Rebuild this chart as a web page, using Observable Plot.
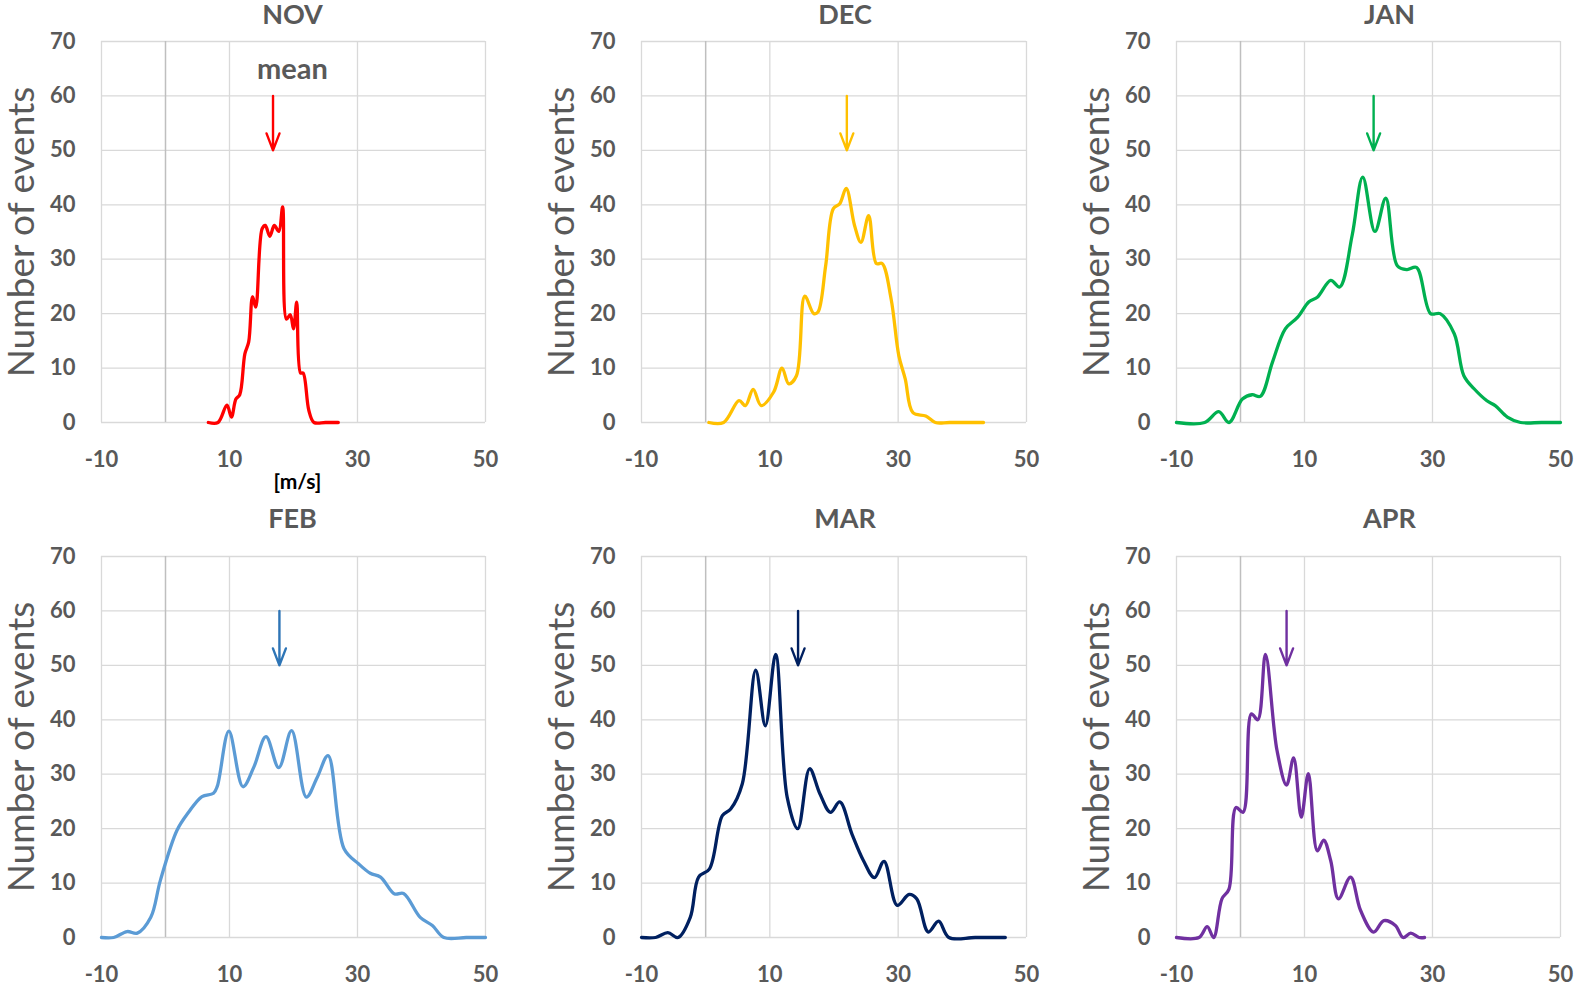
<!DOCTYPE html>
<html><head><meta charset="utf-8">
<script src="https://cdn.jsdelivr.net/npm/d3@7"></script>
<script src="https://cdn.jsdelivr.net/npm/@observablehq/plot@0.6"></script>
<style>
html,body{margin:0;padding:0;background:#fff;overflow:hidden;}
#chart{position:relative;width:1574px;height:985px;}
#chart svg{position:absolute;overflow:visible;}
</style></head><body><div id="chart"></div>
<script>
const months = ["NOV","DEC","JAN","FEB","MAR","APR"];
const lineColors = ["#FF0000","#FFC000","#00B050","#5B9BD5","#002060","#7030A0"];
const arrowColors = ["#FF0000","#FFC000","#00B050","#2E75B6","#002060","#7030A0"];
const meanSpeed = [16.8, 22.0, 20.8, 17.8, 14.4, 7.2];
const arrowFrom = 60, arrowTo = 50;
const yTicks = [0,10,20,30,40,50,60,70];
const xTicks = [-10,10,30,50];
const yLabel = "Number of events";
const unitLabel = "[m/s]";
const meanLabel = "mean";

const novSpeed = [6.7, 8.2, 9.6, 10.3, 11.0, 11.6, 12.4, 13.0, 13.6, 14.1, 15.1, 15.6, 16.3, 17.0, 17.7, 18.3, 18.9, 19.5, 20.0, 20.5, 21.1, 21.5, 22.4, 23.2, 25.0, 27.0];
const novCount = [0, 0, 3.2, 1.0, 4.3, 5.1, 12.6, 14.8, 23.1, 21.2, 35.6, 36.2, 34.2, 36.2, 35.1, 39.6, 19.0, 19.8, 17.2, 22.1, 9.1, 9.1, 2.2, 0, 0, 0];

const decSpeed = [0.5, 2.8, 5.2, 6.2, 7.4, 8.65, 10.6, 11.9, 12.95, 14.15, 15.45, 16.85, 17.5, 18.7, 19.9, 20.9, 21.9, 23.2, 24.2, 25.4, 26.6, 27.5, 28.9, 30.1, 31.1, 32.3, 34.3, 35.8, 38.0, 43.3];
const decCount = [0, 0, 4.0, 3.1, 6.1, 3.1, 5.6, 10.0, 7.1, 8.6, 23.2, 20.0, 20.3, 28.8, 39.3, 40.2, 43.0, 36.2, 33.1, 38.0, 29.2, 29.2, 22.7, 12.3, 8.0, 1.8, 1.2, 0, 0, 0];

const janSpeed = [-10, -5.6, -3.4, -1.8, 0.3, 1.8, 3.1, 5.0, 7.0, 8.9, 10.7, 12.0, 14.1, 15.5, 17.45, 19.1, 21.0, 22.7, 24.5, 26.0, 27.5, 29.7, 31.2, 33.4, 34.9, 36.5, 38.5, 39.8, 41.7, 43.75, 47, 50];
const janCount = [0, 0, 2.0, 0, 4.3, 5.1, 4.8, 11.1, 17.2, 19.3, 22.2, 23.0, 26.1, 24.9, 34.4, 45.1, 35.1, 41.2, 28.8, 28.1, 28.5, 20.0, 20.0, 16.3, 8.6, 6.2, 4.0, 3.1, 1.0, 0, 0, 0];

const febSpeed = [-10, -8.1, -6.0, -4.4, -2.3, -0.8, 1.8, 3.6, 5.7, 7.5, 8.1, 9.9, 12.1, 13.8, 15.7, 17.7, 19.7, 22.0, 23.7, 25.4, 27.9, 30.2, 32.0, 33.6, 35.8, 37.2, 39.8, 41.7, 43.5, 47, 50];
const febCount = [0, 0, 1.1, 0.8, 3.7, 10.5, 19.7, 23.0, 25.9, 26.5, 27.8, 37.9, 27.7, 31.3, 36.9, 31.2, 38.0, 25.8, 29.4, 33.4, 16.3, 13.5, 11.8, 11.1, 8.0, 8.1, 3.7, 2.2, 0, 0, 0];

const marSpeed = [-10, -7.8, -5.9, -4.3, -2.4, -1.1, 0.6, 2.6, 3.9, 5.7, 7.8, 9.3, 10.9, 12.7, 14.35, 16.2, 17.8, 19.45, 20.9, 22.8, 24.6, 26.3, 27.8, 29.85, 31.7, 32.9, 34.7, 36.3, 37.9, 42, 46.7];
const marCount = [0, 0, 0.9, 0, 3.7, 11.1, 12.6, 22.4, 23.6, 28.2, 49.1, 38.9, 52.0, 25.8, 20.0, 31.0, 26.4, 23.0, 24.9, 19.0, 14.1, 11.0, 14.0, 5.9, 7.9, 7.1, 1.0, 3.0, 0, 0, 0];

const aprSpeed = [-10, -6.5, -5.2, -4.2, -2.9, -1.8, -0.7, 0.4, 1.7, 2.7, 3.9, 5.7, 7.2, 8.3, 9.5, 10.6, 12.0, 13.0, 14.1, 15.3, 17.2, 18.75, 20.8, 22.4, 24.2, 25.4, 26.6, 27.9, 28.75];
const aprCount = [0, 0, 2.0, 0, 7.1, 8.9, 23.9, 23.0, 41.1, 40.0, 52.0, 34.4, 28.0, 33.0, 22.1, 30.1, 15.9, 17.9, 14.1, 7.1, 11.1, 5.0, 1.0, 3.1, 2.2, 0, 0.8, 0, 0];

const speeds = [novSpeed, decSpeed, janSpeed, febSpeed, marSpeed, aprSpeed];
const counts = [novCount, decCount, janCount, febCount, marCount, aprCount];

// layout (pixels)
const colLeft = [101, 641, 1176];
const colWidth = [384, 385, 384];
const titleShift = [-1, 11, 21];
const rowTop = [41, 556];
const rowSvgTop = [0, 496];
const rowTitleDy = [-26, -37];
const plotH = 381;
const font = "Lato, 'Open Sans', sans-serif";

const chart = document.getElementById("chart");
months.forEach((m, i) => {
  const col = i % 3, row = Math.floor(i / 3);
  const mt = rowTop[row] - rowSvgTop[row];
  const mb = row === 0 ? 70 : 48;
  const data = speeds[i].map((s, j) => ({speed: s, count: counts[i][j]}));
  const marks = [
    Plot.ruleY(yTicks, {y: d => d, stroke: "#D9D9D9", strokeWidth: 1.3}),
    Plot.ruleX(xTicks, {x: d => d, stroke: "#D9D9D9", strokeWidth: 1.3}),
    Plot.ruleX([0], {x: d => d, stroke: "#BFBFBF", strokeWidth: 1.5}),
    Plot.axisY({ticks: yTicks, tickSize: 0, tickPadding: 26, fontSize: 22, fontWeight: 700, label: null, tickFormat: d => String(d)}),
    Plot.axisX({ticks: xTicks, tickSize: 0, tickPadding: 29, fontSize: 22, fontWeight: 700, label: null, tickFormat: d => String(d)}),
    Plot.line(data, {x: "speed", y: "count", stroke: lineColors[i], strokeWidth: 3.3, curve: "catmull-rom"}),
    Plot.arrow([meanSpeed[i]], {x1: d => d, x2: d => d, y1: () => arrowFrom, y2: () => arrowTo, stroke: arrowColors[i], strokeWidth: 2.4, headLength: 12, headAngle: 42}),
    Plot.text([m], {text: d => d, frameAnchor: "top", lineAnchor: "middle", dx: titleShift[col], dy: rowTitleDy[row], fontSize: 27, fontWeight: 700, fill: "#595959"}),
    Plot.text([yLabel], {text: d => d, frameAnchor: "left", textAnchor: "middle", lineAnchor: "middle", dx: -79, rotate: -90, fontSize: 37, fill: "#595959"})
  ];
  if (i === 0) {
    marks.push(Plot.text([meanLabel], {text: d => d, frameAnchor: "top", lineAnchor: "middle", dx: -1, dy: 28, fontSize: 29, fontWeight: 700, fill: "#595959"}));
    marks.push(Plot.text([unitLabel], {text: d => d, frameAnchor: "bottom", lineAnchor: "middle", dx: 4, dy: 60, fontSize: 21, fontWeight: 700, fill: "#000000"}));
  }
  const svg = Plot.plot({
    width: 101 + colWidth[col] + 14,
    height: mt + plotH + mb,
    marginLeft: 101, marginRight: 14, marginTop: mt, marginBottom: mb,
    x: {domain: [-10, 50]},
    y: {domain: [0, 70]},
    style: {fontFamily: font, color: "#595959", background: "transparent", overflow: "visible"},
    marks
  });
  svg.style.left = (colLeft[col] - 101) + "px";
  svg.style.top = rowSvgTop[row] + "px";
  chart.appendChild(svg);
});
</script></body></html>
